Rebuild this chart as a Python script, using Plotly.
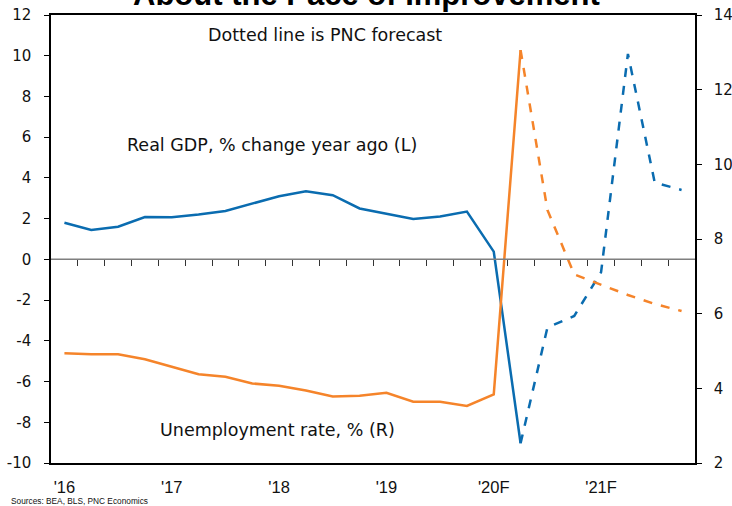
import plotly.graph_objects as go

# Quarterly periods, 2016Q1 through 2021Q4
quarters = [f"{y}Q{q}" for y in range(2016, 2022) for q in range(1, 5)]
year_labels = ["'16", "'17", "'18", "'19", "'20F", "'21F"]

# Real GDP, % change year ago (left axis); actuals through 2020Q2, forecast after
gdp_actual = [1.80, 1.44, 1.60, 2.08, 2.07, 2.20, 2.38, 2.75, 3.10, 3.35,
              3.15, 2.50, 2.25, 1.98, 2.10, 2.35, 0.38, -9.03]
gdp_forecast = [-3.35, -2.78, -0.63, 10.09, 3.77, 3.41]

# Unemployment rate, % (right axis); actuals through 2020Q2, forecast after
unemp_actual = [4.94, 4.91, 4.91, 4.78, 4.58, 4.38, 4.31, 4.13, 4.07, 3.94,
                3.78, 3.80, 3.88, 3.64, 3.64, 3.53, 3.84, 13.06]
unemp_forecast = [8.78, 7.05, 6.77, 6.50, 6.26, 6.07]

# Axis tick values and labels (hyphen minus signs)
left_ticks = list(range(-10, 13, 2))
left_labels = [str(v) for v in left_ticks]
right_ticks = list(range(2, 15, 2))
right_labels = [str(v) for v in right_ticks]

BLUE = "#0a6cb0"
ORANGE = "#f5842a"
TEXT_FONT = "DejaVu Sans"

W, H = 732, 506
ML, MR, MT, MB = 51, 37, 15, 43
PW, PH = W - ML - MR, H - MT - MB

n_act = len(gdp_actual)
x_act = list(range(n_act))
x_fc = list(range(n_act - 1, len(quarters)))

fig = go.Figure()

# Zero line with quarter tick marks along the left scale's 0
fig.add_trace(go.Scatter(x=[-0.5, len(quarters) - 0.5], y=[0, 0], mode="lines", yaxis="y",
                         xaxis="x2", line=dict(color="#7f7f7f", width=1.5), hoverinfo="skip"))

fig.add_trace(go.Scatter(x=x_act, y=gdp_actual, mode="lines", yaxis="y",
                         line=dict(color=BLUE, width=2.5), hoverinfo="skip"))
fig.add_trace(go.Scatter(x=x_fc, y=[gdp_actual[-1]] + gdp_forecast, mode="lines", yaxis="y",
                         line=dict(color=BLUE, width=2.5, dash="dash"), hoverinfo="skip"))
fig.add_trace(go.Scatter(x=x_act, y=unemp_actual, mode="lines", yaxis="y2",
                         line=dict(color=ORANGE, width=2.5), hoverinfo="skip"))
fig.add_trace(go.Scatter(x=x_fc, y=[unemp_actual[-1]] + unemp_forecast, mode="lines", yaxis="y2",
                         line=dict(color=ORANGE, width=2.5, dash="dash"), hoverinfo="skip"))

left_min, left_max = -10, 12
zero_frac = (0 - left_min) / (left_max - left_min)

fig.update_layout(
    width=W, height=H,
    margin=dict(l=ML, r=MR, t=MT, b=MB, autoexpand=False),
    paper_bgcolor="white", plot_bgcolor="white",
    showlegend=False,
    font=dict(family=TEXT_FONT, size=15, color="#111111"),
    xaxis=dict(
        range=[-0.5, len(quarters) - 0.5],
        tickmode="array",
        tickvals=list(range(0, len(quarters), 4)),
        ticktext=year_labels,
        tickfont=dict(family="Liberation Sans", size=16.5, color="#111111"),
        ticks="", ticklabelstandoff=8,
        showgrid=False, zeroline=False, automargin=False,
        showline=True, linecolor="black", linewidth=1.5, mirror=True,
    ),
    xaxis2=dict(
        range=[-0.5, len(quarters) - 0.5],
        overlaying="x", anchor="free", position=zero_frac,
        tickmode="array",
        tickvals=[i + 0.5 for i in range(len(quarters) - 1)],
        ticks="outside", ticklen=6, tickwidth=1.2, tickcolor="#333333",
        showticklabels=False, showgrid=False, zeroline=False, showline=False,
        automargin=False,
    ),
    yaxis=dict(
        range=[left_min, left_max],
        tickmode="array", tickvals=left_ticks, ticktext=left_labels,
        ticks="outside", ticklen=5, tickwidth=1.2, tickcolor="black",
        ticklabelstandoff=10,
        showgrid=False, zeroline=False, automargin=False,
        showline=True, linecolor="black", linewidth=1.5,
        tickfont=dict(family=TEXT_FONT, size=15, color="#111111"),
    ),
    yaxis2=dict(
        range=[2, 14], overlaying="y", side="right", anchor="x",
        tickmode="array", tickvals=right_ticks, ticktext=right_labels,
        ticks="outside", ticklen=5, tickwidth=1.2, tickcolor="black",
        ticklabelstandoff=9,
        showgrid=False, zeroline=False, automargin=False,
        showline=True, linecolor="black", linewidth=1.5,
        tickfont=dict(family=TEXT_FONT, size=15, color="#111111"),
    ),
)


def xpix(p):
    """Convert a pixel column (from page left) to a paper fraction."""
    return (p - ML) / PW


def ypix(p):
    """Convert a pixel row (from page top) to a paper fraction."""
    return (H - MB - p) / PH


def label(text, x, y, font, xanchor="center"):
    fig.add_annotation(text=text, xref="paper", yref="paper", x=xpix(x), y=ypix(y),
                       xanchor=xanchor, yanchor="middle", showarrow=False, font=font)


label("<b>About the Pace of Improvement</b>", 366, -5,
      dict(family="Liberation Sans", size=31, color="black"))
label("Dotted line is PNC forecast", 325, 35, dict(family=TEXT_FONT, size=17.5))
label("Real GDP, % change year ago (L)", 272, 145, dict(family=TEXT_FONT, size=17.5))
label("Unemployment rate, % (R)", 277, 430, dict(family=TEXT_FONT, size=17.5))
label("Sources: BEA, BLS, PNC Economics", 9, 501,
      dict(family="Liberation Sans", size=8.3, color="#111111"), xanchor="left")

fig.write_html("out.html")
